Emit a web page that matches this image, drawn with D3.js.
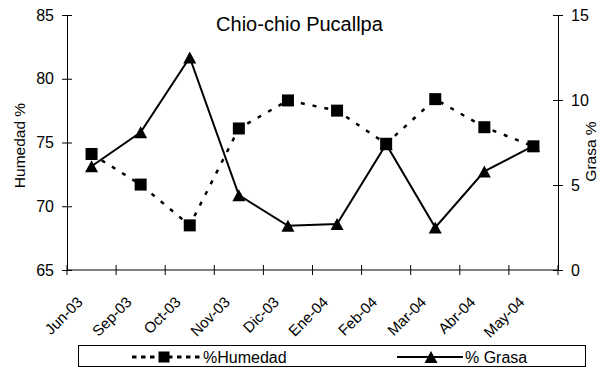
<!DOCTYPE html>
<html>
<head>
<meta charset="utf-8">
<script src="https://cdn.jsdelivr.net/npm/d3@7"></script>
<style>
  html, body { margin: 0; padding: 0; background: #fff; }
  svg { display: block; }
  text { font-family: "Liberation Sans", Arial, sans-serif; fill: #000; }
</style>
</head>
<body>
<div id="chart"></div>
<script>
// ---- data ----
const categories = ["Jun-03", "Sep-03", "Oct-03", "Nov-03", "Dic-03", "Ene-04", "Feb-04", "Mar-04", "Abr-04", "May-04"];
const humedad = [74.1, 71.7, 68.5, 76.1, 78.3, 77.5, 74.9, 78.4, 76.2, 74.7];
const grasa   = [6.1, 8.1, 12.5, 4.4, 2.6, 2.7, 7.4, 2.5, 5.8, 7.3];
const leftTicks  = [65, 70, 75, 80, 85];
const rightTicks = [0, 5, 10, 15];
const titleText = "Chio-chio Pucallpa";
const leftTitle = "Humedad %";
const rightTitle = "Grasa %";
const legendLabels = ["%Humedad", "% Grasa"];

// ---- layout ----
const W = 606, H = 368;
const plot = { left: 67, right: 558, top: 15, bottom: 270 };

const svg = d3.select("#chart").append("svg")
  .attr("width", W).attr("height", H);

const x = d3.scaleBand().domain(categories).range([plot.left, plot.right]);
const yL = d3.scaleLinear().domain([65, 85]).range([plot.bottom, plot.top]);
const yR = d3.scaleLinear().domain([0, 15]).range([plot.bottom, plot.top]);
const cx = d => x(d) + x.bandwidth() / 2;

// ---- x axis ----
const boundaries = categories.map(c => x(c)).concat([plot.right]);
svg.append("line")
  .attr("x1", plot.left).attr("x2", plot.right)
  .attr("y1", plot.bottom).attr("y2", plot.bottom)
  .attr("stroke", "#808080").attr("stroke-width", 2);
svg.append("g").selectAll("line").data(boundaries).join("line")
  .attr("x1", d => d).attr("x2", d => d)
  .attr("y1", plot.bottom - 5).attr("y2", plot.bottom + 5)
  .attr("stroke", "#000").attr("stroke-width", 1);
svg.append("g").selectAll("text").data(categories).join("text")
  .attr("transform", d => `translate(${cx(d) - 8},${plot.bottom + 33}) rotate(-45)`)
  .attr("text-anchor", "end")
  .attr("font-size", 15)
  .text(d => d);

// ---- left axis ----
const gl = svg.append("g").attr("transform", `translate(${plot.left},0)`);
gl.call(d3.axisLeft(yL).tickValues(leftTicks).tickSize(0).tickPadding(13).tickFormat(d3.format("d")));
gl.select(".domain").attr("stroke", "#000");
gl.selectAll(".tick text").attr("font-size", 16).attr("font-family", "Liberation Sans, Arial, sans-serif").attr("fill", "#000");
gl.selectAll(".tick").append("line").attr("x1", -5).attr("x2", 5).attr("stroke", "#000");

// ---- right axis ----
const gr = svg.append("g").attr("transform", `translate(${plot.right},0)`);
gr.call(d3.axisRight(yR).tickValues(rightTicks).tickSize(0).tickPadding(13).tickFormat(d3.format("d")));
gr.select(".domain").attr("stroke", "#000");
gr.selectAll(".tick text").attr("font-size", 16).attr("font-family", "Liberation Sans, Arial, sans-serif").attr("fill", "#000");
gr.selectAll(".tick").append("line").attr("x1", -5).attr("x2", 5).attr("stroke", "#000");

// axis titles
svg.append("text")
  .attr("transform", `translate(25,${(plot.top + plot.bottom) / 2 + 3}) rotate(-90)`)
  .attr("text-anchor", "middle").attr("font-size", 15.5)
  .text(leftTitle);
svg.append("text")
  .attr("transform", `translate(596,${(plot.top + plot.bottom) / 2 + 9}) rotate(-90)`)
  .attr("text-anchor", "middle").attr("font-size", 15.5)
  .text(rightTitle);

// title
svg.append("text")
  .attr("x", 299.5).attr("y", 31)
  .attr("text-anchor", "middle").attr("font-size", 20)
  .text(titleText);

// ---- series ----
const lineH = d3.line().x((d, i) => cx(categories[i])).y(d => yL(d));
const lineG = d3.line().x((d, i) => cx(categories[i])).y(d => yR(d));

svg.append("path").datum(humedad)
  .attr("d", lineH).attr("fill", "none")
  .attr("stroke", "#000").attr("stroke-width", 2.5)
  .attr("stroke-dasharray", "4,8");
svg.append("path").datum(grasa)
  .attr("d", lineG).attr("fill", "none")
  .attr("stroke", "#000").attr("stroke-width", 2);

const sq = 12;
svg.append("g").selectAll("rect").data(humedad).join("rect")
  .attr("x", (d, i) => cx(categories[i]) - sq / 2)
  .attr("y", d => yL(d) - sq / 2)
  .attr("width", sq).attr("height", sq)
  .attr("fill", "#000");

const triPath = (px, py) => {
  const w = 13, h = 12;
  return `M${px},${py - h / 2}L${px + w / 2},${py + h / 2}L${px - w / 2},${py + h / 2}Z`;
};
svg.append("g").selectAll("path").data(grasa).join("path")
  .attr("d", (d, i) => triPath(cx(categories[i]), yR(d)))
  .attr("fill", "#000");

// ---- legend ----
const lg = svg.append("g");
lg.append("rect")
  .attr("x", 78.5).attr("y", 345.5).attr("width", 507).attr("height", 21)
  .attr("fill", "#fff").attr("stroke", "#000").attr("stroke-width", 1);
const ly = 357;
lg.append("line").attr("x1", 132).attr("x2", 202).attr("y1", ly).attr("y2", ly)
  .attr("stroke", "#000").attr("stroke-width", 3).attr("stroke-dasharray", "4.5,4.5");
lg.append("rect").attr("x", 164 - 5.5).attr("y", ly - 5.5).attr("width", 11).attr("height", 11).attr("fill", "#000");
lg.append("text").attr("x", 203).attr("y", ly + 6).attr("font-size", 16).text(legendLabels[0]);

lg.append("line").attr("x1", 397).attr("x2", 463).attr("y1", ly).attr("y2", ly)
  .attr("stroke", "#000").attr("stroke-width", 2);
lg.append("path").attr("d", triPath(431, ly)).attr("fill", "#000");
lg.append("text").attr("x", 465).attr("y", ly + 6).attr("font-size", 16).text(legendLabels[1]);
</script>
</body>
</html>
